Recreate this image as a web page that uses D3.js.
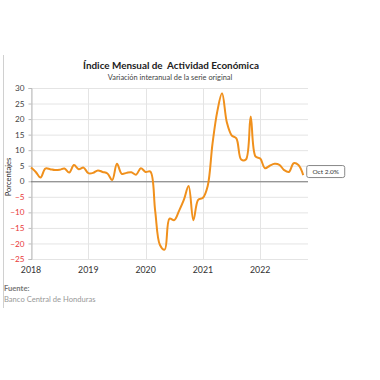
<!DOCTYPE html>
<html><head><meta charset="utf-8">
<script src="https://cdn.jsdelivr.net/npm/d3@7"></script>
<style>body{margin:0;background:#fff}svg{display:block}</style>
</head><body>
<svg id="c" width="380" height="380"></svg>
<script>
const title = "Índice Mensual de  Actividad Económica";
const subtitle = "Variación interanual de la serie original";
const yLabel = "Porcentajes";
const startYear = 2018, startMonth = 0;
const values = [4.4,3.0,1.2,4.1,3.9,3.6,3.7,4.1,2.8,5.2,3.9,4.4,
  2.6,2.7,3.5,3.0,2.5,0.4,5.6,2.4,2.7,2.9,2.1,4.2,
  3.0,3.1,-9.5,-20.5,-22.0,-12.0,-12.5,-9.5,-6.0,-1.5,-12.5,-6.0,
  -5.3,-1.5,12.0,22.4,28.3,19.0,14.8,13.8,7.0,7.0,20.8,8.0,
  7.3,4.2,5.0,5.6,5.3,3.6,3.0,5.8,5.2,2.0];
const yTicks = [30,25,20,15,10,5,0,-5,-10,-15,-20,-25];
const xYears = [2018,2019,2020,2021,2022];
const lastLabel = "Oct 2.0%";
const source = ["Fuente:", "Banco Central de Honduras"];

const data = values.map((v,i)=>({t: startYear + (startMonth+i)/12, v}));
const svg = d3.select("#c");
const font = "Lato, 'Open Sans', sans-serif";
const m = {l:31, r:308, t:88, b:259};
const x = d3.scaleLinear().domain([2018, 2022+10/12]).range([m.l, m.r]);
const y = d3.scaleLinear().domain([-25,30]).range([m.b, m.t]);

// left border
svg.append("line").attr("x1",3.5).attr("x2",3.5).attr("y1",55).attr("y2",308).attr("stroke","#d0d0d0").attr("stroke-width",1);

svg.append("text").attr("x",171).attr("y",69).attr("text-anchor","middle")
  .attr("font-family",font).attr("font-weight","bold").attr("font-size",9.9).attr("fill","#222").attr("xml:space","preserve").text(title);
svg.append("text").attr("x",170).attr("y",80).attr("text-anchor","middle")
  .attr("font-family",font).attr("font-size",7.4).attr("fill","#444").text(subtitle);

// grid
svg.append("g").selectAll("line").data(yTicks).join("line")
  .attr("x1",m.l).attr("x2",m.r).attr("y1",d=>y(d)+.5).attr("y2",d=>y(d)+.5)
  .attr("stroke","#e4e4e4");
svg.append("g").selectAll("line").data(xYears).join("line")
  .attr("x1",d=>Math.round(x(d))+.5).attr("x2",d=>Math.round(x(d))+.5).attr("y1",m.t).attr("y2",m.b)
  .attr("stroke","#e4e4e4");

// y axis
const ya = svg.append("g").attr("transform",`translate(${m.l+.5},0)`)
  .call(d3.axisLeft(y).tickValues(yTicks).tickSize(3).tickPadding(4));
ya.select(".domain").attr("stroke","#bbb");
ya.selectAll(".tick line").attr("stroke","#bbb");
ya.selectAll(".tick text").attr("font-family",font).attr("font-size",8.2)
  .attr("fill",d=>d<0?"#e83a3a":"#444");

// x axis labels
svg.append("g").selectAll("text").data(xYears).join("text")
  .attr("x",d=>x(d)).attr("y",273).attr("text-anchor","middle")
  .attr("font-family",font).attr("font-size",8.8).attr("fill","#333").text(d=>d);

// zero line
svg.append("line").attr("x1",m.l).attr("x2",m.r).attr("y1",y(0)+.5).attr("y2",y(0)+.5).attr("stroke","#777").attr("stroke-width",1);

svg.append("text").attr("transform",`translate(11,177) rotate(-90)`).attr("text-anchor","middle")
  .attr("font-family",font).attr("font-size",7.6).attr("fill","#333").text(yLabel);

// line
svg.append("path").datum(data)
  .attr("d", d3.line().x(d=>x(d.t)).y(d=>y(d.v)).curve(d3.curveCatmullRom.alpha(0.5)))
  .attr("fill","none").attr("stroke","#f0901c").attr("stroke-width",2).attr("stroke-linejoin","round");

// last label
const last = data[data.length-1];
const lg = svg.append("g").attr("transform",`translate(${x(last.t)+3},${y(last.v)-10})`);
lg.append("rect").attr("x",0.5).attr("y",0.5).attr("width",38).attr("height",12).attr("rx",2)
  .attr("fill","#fff").attr("stroke","#888");
lg.append("text").attr("x",19.5).attr("y",9.2).attr("text-anchor","middle")
  .attr("font-family",font).attr("font-size",6.5).attr("fill","#333").text(lastLabel);

svg.append("text").attr("x",4).attr("y",291).attr("font-family",font).attr("font-weight","bold")
  .attr("font-size",7.6).attr("fill","#777").text(source[0]);
svg.append("text").attr("x",4).attr("y",302).attr("font-family",font)
  .attr("font-size",7.6).attr("fill","#999").text(source[1]);
</script>
</body></html>
